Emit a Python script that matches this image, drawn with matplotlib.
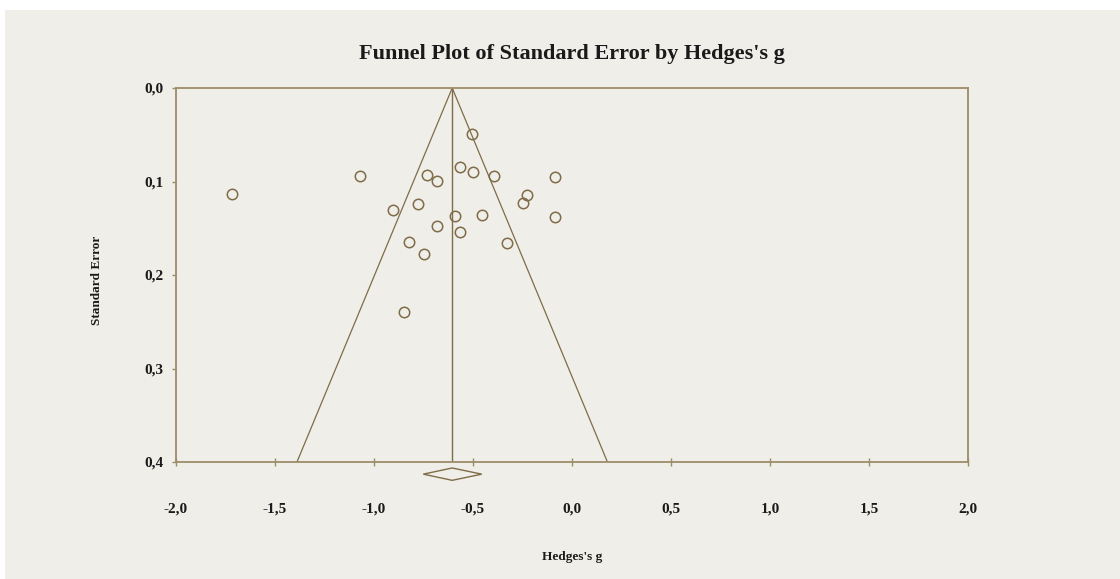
import matplotlib.pyplot as plt
from matplotlib.patches import Polygon, Rectangle
import numpy as np

# Study effect sizes and their standard errors
hedges_g = [-0.504, -1.071, -0.731, -0.680, -0.566, -0.502, -0.394, -0.086,
            -0.226, -0.249, -0.903, -0.776, -0.589, -0.456, -0.086, -0.680,
            -0.564, -0.823, -0.330, -0.749, -0.847, -1.716]
std_err = [0.049, 0.094, 0.093, 0.099, 0.085, 0.090, 0.094, 0.095,
           0.114, 0.123, 0.130, 0.124, 0.137, 0.136, 0.138, 0.148,
           0.154, 0.165, 0.166, 0.178, 0.240, 0.113]

# Summary effect and its confidence interval (diamond)
mean_g = -0.605
ci_low = -0.751
ci_high = -0.456

x_ticks = [-2.0, -1.5, -1.0, -0.5, 0.0, 0.5, 1.0, 1.5, 2.0]
y_ticks = [0.0, 0.1, 0.2, 0.3, 0.4]

bg = '#EFEEE8'
line_col = '#7F6C48'
frame_col = '#9C8C68'

plt.rcParams['font.family'] = ['Liberation Serif', 'DejaVu Serif']
plt.rcParams['font.weight'] = 'bold'

fig = plt.figure(figsize=(11.2, 5.79), dpi=100, facecolor=bg)
# white strip at the top of the image
fig.patches.append(Rectangle((0, 1 - 10 / 579), 1, 10 / 579, transform=fig.transFigure,
                             facecolor='white', edgecolor='none', zorder=-1))
fig.patches.append(Rectangle((0, 0), 5 / 1120, 1, transform=fig.transFigure,
                             facecolor='white', edgecolor='none', zorder=-1))

ax = fig.add_axes([176 / 1120, 1 - 462 / 579, 792 / 1120, 374 / 579])
ax.set_facecolor(bg)

# funnel (95% pseudo confidence limits)
se_max = 0.4
ax.plot([mean_g - 1.96 * se_max, mean_g, mean_g + 1.96 * se_max], [se_max, 0, se_max],
        color=line_col, lw=0.9)
ax.plot([mean_g, mean_g], [0, se_max], color=line_col, lw=1.0)

# studies
ax.plot(hedges_g, std_err, linestyle='none', marker='o', markersize=7.5,
        markerfacecolor='none', markeredgecolor=line_col, markeredgewidth=1.1)

# summary diamond below the axis
y0 = 0.413
h = 0.0066
diamond = Polygon([[ci_low, y0], [mean_g, y0 - h], [ci_high, y0], [mean_g, y0 + h]],
                  closed=True, fill=False, edgecolor=line_col, lw=1.0, clip_on=False)
ax.add_patch(diamond)

ax.set_xlim(-2, 2)
ax.set_ylim(0.4, 0.0)
ax.set_xticks(x_ticks)
ax.set_xticklabels([f'{v:.1f}'.replace('.', ',') for v in x_ticks])
ax.set_yticks(y_ticks)
ax.set_yticklabels([f'{v:.1f}'.replace('.', ',') for v in y_ticks])

for s in ax.spines.values():
    s.set_color(frame_col)
    s.set_linewidth(1.3)

ax.tick_params(axis='x', direction='inout', length=6, width=1, color=frame_col,
               pad=26, labelsize=11)
ax.tick_params(axis='y', direction='out', length=3, width=1, color=frame_col,
               pad=6, labelsize=11)
for lbl in ax.get_xticklabels() + ax.get_yticklabels():
    lbl.set_fontweight('bold')
    lbl.set_color('#1A1A1A')

fig.text(572 / 1120, 1 - 54 / 579, "Funnel Plot of Standard Error by Hedges's g",
         ha='center', va='center', fontsize=16, fontweight='bold', color='#1A1A1A')
fig.text(97 / 1120, 1 - 280 / 579, 'Standard Error', rotation=90,
         ha='center', va='center', fontsize=9.5, fontweight='bold', color='#1A1A1A')
fig.text(572 / 1120, 1 - 557 / 579, "Hedges's g",
         ha='center', va='center', fontsize=9.5, fontweight='bold', color='#1A1A1A')

fig.savefig('out.png', dpi=100, facecolor=fig.get_facecolor())
